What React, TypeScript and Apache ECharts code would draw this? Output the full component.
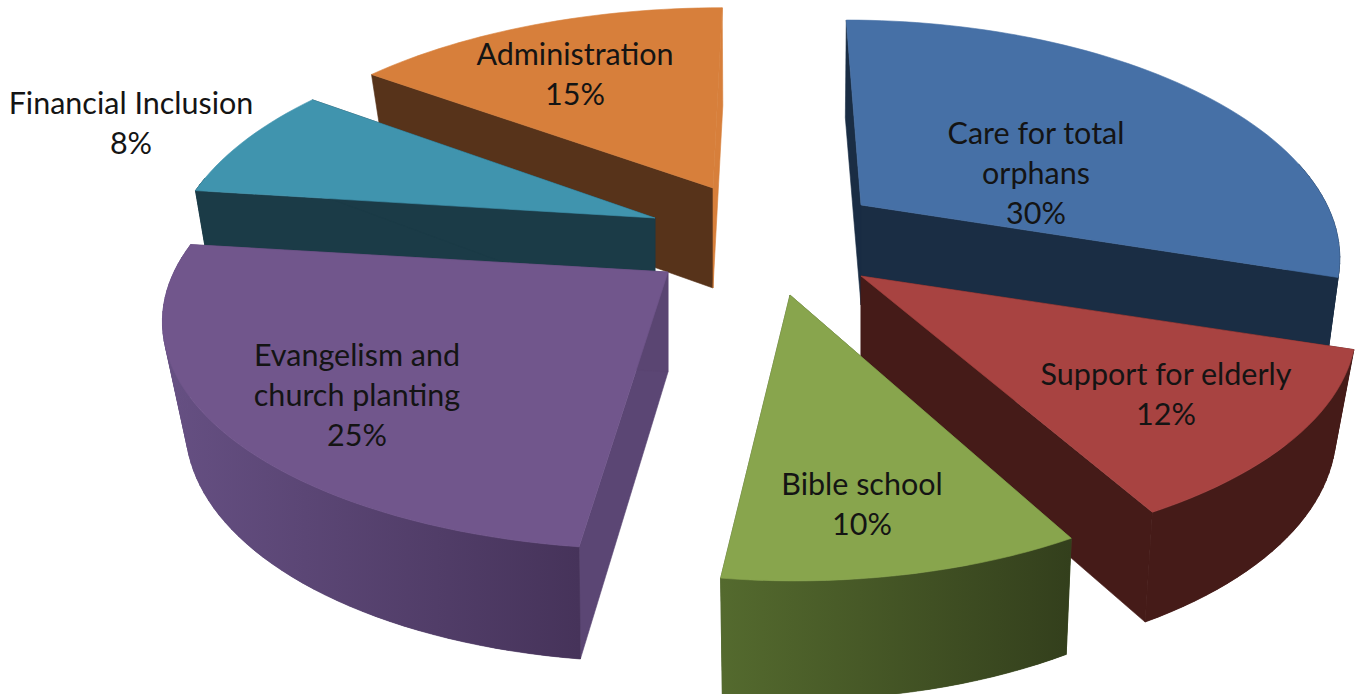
import React, { useEffect, useRef } from "react";
import * as echarts from "echarts";

const names = [
  "Care for total\norphans",
  "Support for elderly",
  "Bible school",
  "Evangelism and\nchurch planting",
  "Financial Inclusion",
  "Administration",
];
const values = [30, 12, 10, 25, 8, 15];
const drawOrder = [5, 4, 0, 3, 1, 2];

const topColors = ["#4670A6", "#A84341", "#88A54D", "#71568C", "#4094AE", "#D77F3B"];
const startWallColors = ["#1A2D44", "#451B18", "#4A5C2B", "#5B4674", "#1B3B47", "#57331A"];
const endWallColors = ["#1A2D44", "#451B18", "#4A5C2B", "#5A4572", "#1B3B47", "#D77F3B"];
const outerFrom = ["#1A2D44", "#451B18", "#546A2E", "#665083", "#1B3B47", "#57331A"];
const outerTo = ["#1A2D44", "#451B18", "#333F1C", "#46335A", "#1B3B47", "#57331A"];

// Layout of the exploded perspective pie
const apexX = [861, 861, 790, 668, 655, 713];
const apexY = [205, 276, 295, 272, 218, 188];
const radii = [466, 484, 478, 494, 475, 478];
const vanishX = [770, 808, 770, 720, 680, 770];
const ryScale = [0.985, 1, 1.03, 1, 1, 0.96];
const depths = [100, 100, 106, 100, 100, 100];
const botRadiusScale = [0.965, 0.955, 0.965, 0.95, 0.965, 0.965];
const labelX = [1036, 1166, 862, 357, 131, 575];
const labelY = [132, 373, 483, 354, 102, 53];
const LABEL_LINE = 40;
const RY = 224, K = 0.193;
const RY2 = 229.6, K2 = 0.208;

function topPt(i: number, a: number): number[] {
  const u = Math.sin(a), v = -Math.cos(a), p = 1 / (1 - K * v);
  const vx = vanishX[i];
  return [vx + (apexX[i] - vx + radii[i] * u) * p, apexY[i] + RY * ryScale[i] * v * p];
}
function botPt(i: number, a: number): number[] {
  const u = Math.sin(a), v = -Math.cos(a), p = 1 / (1 - K2 * v);
  const vx = vanishX[i];
  return [vx + (apexX[i] - vx + radii[i] * botRadiusScale[i] * u) * p, apexY[i] + depths[i] + RY2 * ryScale[i] * v * p];
}

function solid(points: number[][], fill: any, stroked = true) {
  return {
    type: "polygon",
    shape: { points },
    style: stroked ? { fill, stroke: fill, lineWidth: 0.6 } : { fill },
  };
}

export default function App() {
  const ref = useRef<HTMLDivElement>(null);
  useEffect(() => {
    if (!ref.current) return;
    const chart = echarts.init(ref.current, undefined, { renderer: "svg" });
    const total = values.reduce((s, v) => s + v, 0);
    const starts: number[] = [];
    values.reduce((acc, v, i) => {
      starts[i] = acc;
      return acc + v;
    }, 0);

    const renderItem = (_params: any, api: any) => {
      const i = api.value(0) as number;
      const val = api.value(1) as number;
      const a0 = (starts[i] / total) * Math.PI * 2;
      const a1 = a0 + (val / total) * Math.PI * 2;
      const n = Math.max(8, Math.ceil((a1 - a0) / 0.03));
      const arcTop: number[][] = [];
      const arcBot: number[][] = [];
      const visTop: number[][] = [];
      const visBot: number[][] = [];
      for (let k = 0; k <= n; k++) {
        const a = a0 + ((a1 - a0) * k) / n;
        const t = topPt(i, a), b = botPt(i, a);
        arcTop.push(t);
        arcBot.push(b);
        // outer wall is only seen on the side that faces the viewer
        if (-Math.cos(a) > -0.2) {
          visTop.push(t);
          visBot.push(b);
        }
      }
      const apexT = [apexX[i], apexY[i]];
      const apexB = [apexX[i], apexY[i] + depths[i]];
      const xs = arcTop.map((p) => p[0]);
      const grad = new echarts.graphic.LinearGradient(
        Math.min(...xs), 0, Math.max(...xs), 0,
        [{ offset: 0, color: outerFrom[i] }, { offset: 1, color: outerTo[i] }],
        true
      );
      const children: any[] = [];
      children.push(solid([apexT, arcTop[0], arcBot[0], apexB], startWallColors[i]));
      children.push(solid([apexT, arcTop[n], arcBot[n], apexB], endWallColors[i]));
      for (let k = 0; k + 1 < visTop.length; k++) {
        children.push(solid([visTop[k], visTop[k + 1], visBot[k + 1], visBot[k]], grad));
      }
      if (visTop.length > 1) {
        children.push(solid([...visTop, ...visBot.slice().reverse()], grad, false));
      }
      children.push(solid([apexT, ...arcTop], topColors[i]));
      const lines = (names[i] + "\n" + values[i] + "%").split("\n");
      lines.forEach((line, li) => {
        children.push({
          type: "text",
          style: {
            text: line,
            x: labelX[i],
            y: labelY[i] + li * LABEL_LINE,
            align: "center",
            verticalAlign: "middle",
            font: '30.5px Lato, "Open Sans", sans-serif',
            fill: "#141414",
          },
        });
      });
      return { type: "group", children };
    };

    chart.setOption({
      animation: false,
      backgroundColor: "#ffffff",
      series: [
        {
          type: "custom",
          coordinateSystem: "none",
          silent: true,
          renderItem,
          data: drawOrder.map((i) => [i, values[i]]),
        },
      ],
    });
    return () => chart.dispose();
  }, []);
  return <div ref={ref} style={{ position: "fixed", left: 0, top: 0, width: 1355, height: 694 }} />;
}
